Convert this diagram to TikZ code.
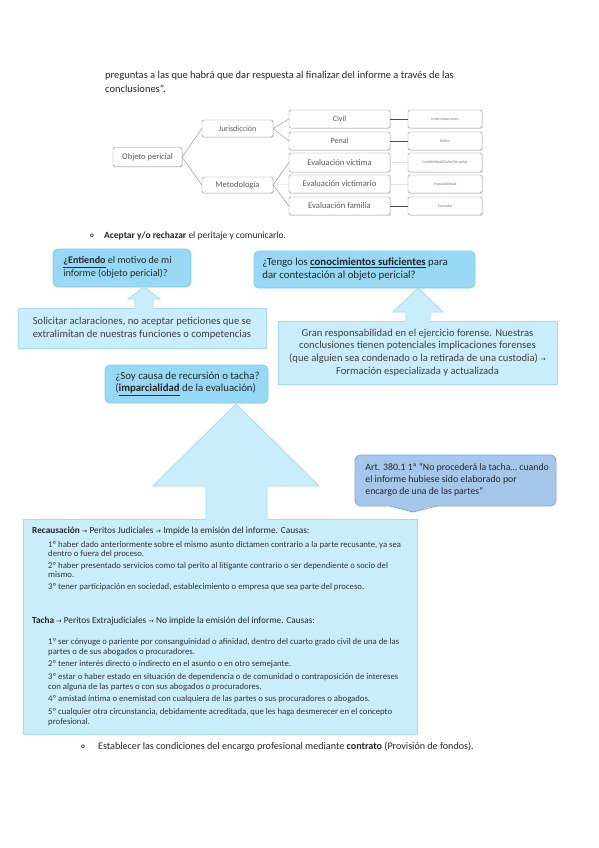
\documentclass[tikz,border=0pt]{standalone}
\usepackage{fontspec}
\setmainfont{Carlito}
\newfontfamily\dejavu{DejaVu Sans}
\usetikzlibrary{shadows}
\definecolor{qfill}{HTML}{97D8F5}
\definecolor{qdraw}{HTML}{7BCDEF}
\definecolor{lfill}{HTML}{C9EDFB}
\definecolor{ldraw}{HTML}{A3DCF3}
\definecolor{cfill}{HTML}{A5C7EA}
\definecolor{cdraw}{HTML}{78A9DD}
\definecolor{txt}{HTML}{262626}
\definecolor{ttxt}{HTML}{5A5A5A}
\definecolor{rtxt}{HTML}{6A7F95}
\newcommand\myarr{{\dejavu\fontsize{6.5}{6.5}\selectfont →}}
\tikzset{
  body/.style={font=\fontsize{10.5}{12}\selectfont, text=txt, inner sep=0pt},
  tbox/.style={draw=black!45, fill=white, rounded corners=1.5pt, inner sep=0pt,
    text=ttxt, drop shadow={opacity=0.25, shadow xshift=0.8pt, shadow yshift=-0.8pt}},
  tline/.style={draw=black!40, line width=0.5pt},
  dline/.style={draw=black!70, line width=0.8pt},
  fline/.style={draw=black!12, line width=0.5pt},
  qbox/.style={draw=qdraw, fill=qfill, rounded corners=5pt, line width=0.8pt, inner sep=0pt,
    font=\fontsize{10.8}{12.5}\selectfont, text=txt},
  lbox/.style={draw=ldraw, fill=lfill, line width=0.8pt, inner sep=0pt,
    font=\fontsize{10.6}{12.7}\selectfont, text=black!75},
  cbox/.style={draw=cdraw, fill=cfill, rounded corners=6pt, line width=0.8pt, inner sep=0pt,
    font=\fontsize{9.8}{12}\selectfont, text=txt},
  bigarrow/.style={fill=lfill, draw=none},
  arrowedge/.style={draw=ldraw, line width=0.8pt, line join=miter},
  item/.style={font=\fontsize{8.7}{9}\selectfont, text=black!80, inner sep=0pt, align=left, anchor=north west},
  head/.style={font=\fontsize{9.3}{11}\selectfont, text=black!85, inner sep=0pt, anchor=base west},
}
\begin{document}
\begin{tikzpicture}[x=1pt,y=-1pt]
\useasboundingbox[fill=white] (0,0) rectangle (599,848);

% top text
\node[body, anchor=base west] (p1) at (105,79) {preguntas a las que habrá que dar respuesta al finalizar del informe a través de las};
\node[body, anchor=base west] (p2) at (105,93) {conclusiones”.};

% tree
\node[tbox, minimum width=69pt, minimum height=19pt, font=\fontsize{8.5}{9}\selectfont] (obj) at (147.5,157) {Objeto pericial};
\node[tbox, minimum width=71pt, minimum height=17pt, font=\fontsize{8}{9}\selectfont] (jur) at (237.5,128.5) {Jurisdicción};
\node[tbox, minimum width=71pt, minimum height=16pt, font=\fontsize{8.5}{9}\selectfont] (met) at (237.5,185) {Metodología};
\node[tbox, minimum width=101pt, minimum height=18pt, font=\fontsize{8}{9}\selectfont] (civ) at (339.5,119) {Civil};
\node[tbox, minimum width=101pt, minimum height=18pt, font=\fontsize{8}{9}\selectfont] (pen) at (339.5,141) {Penal};
\node[tbox, minimum width=101pt, minimum height=19pt, font=\fontsize{8.6}{10}\selectfont] (vic) at (339.5,162.5) {Evaluación víctima};
\node[tbox, minimum width=101pt, minimum height=18pt, font=\fontsize{8.6}{10}\selectfont] (vio) at (339.5,184) {Evaluación victimario};
\node[tbox, minimum width=101pt, minimum height=18pt, font=\fontsize{8.6}{10}\selectfont] (fam) at (339.5,206) {Evaluación familia};
\node[tbox, minimum width=74pt, minimum height=18pt, font=\fontsize{4}{5}\selectfont, text=rtxt] (r1) at (445,119) {Indemnizaciones};
\node[tbox, minimum width=74pt, minimum height=18pt, font=\fontsize{4}{5}\selectfont, text=rtxt] (r2) at (445,141) {Delito};
\node[tbox, minimum width=74pt, minimum height=19pt, font=\fontsize{4}{5}\selectfont, text=rtxt] (r3) at (445,162.5) {Credibilidad/Daño/Secuelas};
\node[tbox, minimum width=74pt, minimum height=18pt, font=\fontsize{4}{5}\selectfont, text=rtxt] (r4) at (445,184) {Imputabilidad};
\node[tbox, minimum width=74pt, minimum height=18pt, font=\fontsize{4}{5}\selectfont, text=rtxt] (r5) at (445,206) {Custodia};

\draw[tline] (obj.east) -- (jur.west);
\draw[tline] (obj.east) -- (met.west);
\draw[tline] (jur.east) -- (civ.west);
\draw[tline] (jur.east) -- (pen.west);
\draw[tline] (met.east) -- (vic.west);
\draw[fline] (met.east) -- (vio.west);
\draw[tline] (met.east) -- (fam.west);
\draw[dline] (civ.east) -- (r1.west);
\draw[dline] (pen.east) -- (r2.west);
\draw[fline] (vic.east) -- (r3.west);
\draw[fline] (vio.east) -- (r4.west);
\draw[dline] (fam.east) -- (r5.west);

% bullet 1
\node[inner sep=0pt, font=\fontsize{7}{7}\selectfont\bfseries, text=txt] (b1) at (92,236) {o};
\node[body, anchor=base west, font=\fontsize{9.5}{11}\selectfont] (a1) at (104,238.5) {\textbf{Aceptar y/o rechazar} el peritaje y comunicarlo.};

% question boxes
\node[qbox, minimum width=138pt, minimum height=38pt] (ent) at (122,268) {};
\node[qbox, draw=none, fill=none, anchor=west, align=left, font=\fontsize{10.1}{12.5}\selectfont] (entt) at (63,267.5) {\underline{\textbf{¿Entiendo}} el motivo de mi\\informe (objeto pericial)?};
\node[qbox, minimum width=221pt, minimum height=37pt] (ten) at (364.5,269.5) {};
\node[qbox, draw=none, fill=none, anchor=west, align=left] (tent) at (262,269) {¿Tengo los \underline{\textbf{conocimientos suficientes}} para\\dar contestación al objeto pericial?};
\node[qbox, minimum width=163pt, minimum height=38pt] (soy) at (186.5,384) {};
\node[qbox, draw=none, fill=none, anchor=west, align=left] (soyt) at (115,383.5) {¿Soy causa de recursión o tacha?\\(\underline{\textbf{imparcialidad}} de la evaluación)};

% light boxes
\node[lbox, minimum width=248pt, minimum height=40pt, align=center] (sol) at (142,328) {Solicitar aclaraciones, no aceptar peticiones que se\\extralimitan de nuestras funciones o competencias};
\node[lbox, minimum width=279pt, minimum height=63pt, align=center] (gran) at (417.5,352.5) {Gran responsabilidad en el ejercicio forense. Nuestras\\conclusiones tienen potenciales implicaciones forenses\\(que alguien sea condenado o la retirada de una custodia) \myarr\\Formación especializada y actualizada};

% arrows sol -> ent
\fill[bigarrow] (144,287) -- (160,299) -- (153,299) -- (153,309) -- (135,309) -- (135,299) -- (128,299) -- cycle;
\draw[arrowedge] (135,307.6) -- (135,299) -- (128,299) -- (144,287) -- (160,299) -- (153,299) -- (153,307.6);
% gran -> ten
\fill[bigarrow] (418,288) -- (443,312) -- (430,312) -- (430,322) -- (406,322) -- (406,312) -- (393,312) -- cycle;
\draw[arrowedge] (406,320.6) -- (406,312) -- (393,312) -- (418,288) -- (443,312) -- (430,312) -- (430,320.6);

% big box
\node[lbox, minimum width=394pt, minimum height=215pt] (big) at (220,626.5) {};
% big arrow big -> soy
\fill[bigarrow] (236,404) -- (319,486) -- (267,486) -- (267,520) -- (206,520) -- (206,486) -- (153,486) -- cycle;
\draw[arrowedge] (206,518.6) -- (206,486) -- (153,486) -- (236,404) -- (319,486) -- (267,486) -- (267,518.6);

% callout
\node[cbox, minimum width=201pt, minimum height=51pt] (art) at (455.5,480.5) {};
\fill[cfill] (389,505) -- (413,512) -- (437,505) -- cycle;
\draw[draw=cdraw, line width=0.8pt] (390,506) -- (413,512) -- (437,506);
\node[cbox, draw=none, fill=none, anchor=west, align=left] (artt) at (365,480) {Art. 380.1 1ª “No procederá la tacha… cuando\\el informe hubiese sido elaborado por\\encargo de una de las partes”};

% big box text
\node[head] (h1) at (32,533) {\textbf{Recausación} \myarr{} Peritos Judiciales \myarr{} Impide la emisión del informe. Causas:};
\node[item] (i1) at (48,541) {1º haber dado anteriormente sobre el mismo asunto dictamen contrario a la parte recusante, ya sea\\dentro o fuera del proceso.\\[3pt]
2º haber presentado servicios como tal perito al litigante contrario o ser dependiente o socio del\\mismo.\\[3pt]
3º tener participación en sociedad, establecimiento o empresa que sea parte del proceso.};
\node[head] (h2) at (32,623) {\textbf{Tacha} \myarr{} Peritos Extrajudiciales \myarr{} No impide la emisión del informe. Causas:};
\node[item, font=\fontsize{8.7}{10}\selectfont] (i2) at (48,638) {1º ser cónyuge o pariente por consanguinidad o afinidad, dentro del cuarto grado civil de una de las\\partes o de sus abogados o procuradores.\\[2.5pt]
2º tener interés directo o indirecto en el asunto o en otro semejante.\\[2.5pt]
3º estar o haber estado en situación de dependencia o de comunidad o contraposición de intereses\\con alguna de las partes o con sus abogados o procuradores.\\[2.5pt]
4º amistad íntima o enemistad con cualquiera de las partes o sus procuradores o abogados.\\[2.5pt]
5º cualquier otra circunstancia, debidamente acreditada, que les haga desmerecer en el concepto\\profesional.};

% bullet 2
\node[inner sep=0pt, font=\fontsize{7}{7}\selectfont\bfseries, text=txt] (b2) at (83,747) {o};
\node[body, anchor=base west, font=\fontsize{10.1}{12}\selectfont] (a2) at (98,749.5) {Establecer las condiciones del encargo profesional mediante \textbf{contrato} (Provisión de fondos).};
\end{tikzpicture}
\end{document}
